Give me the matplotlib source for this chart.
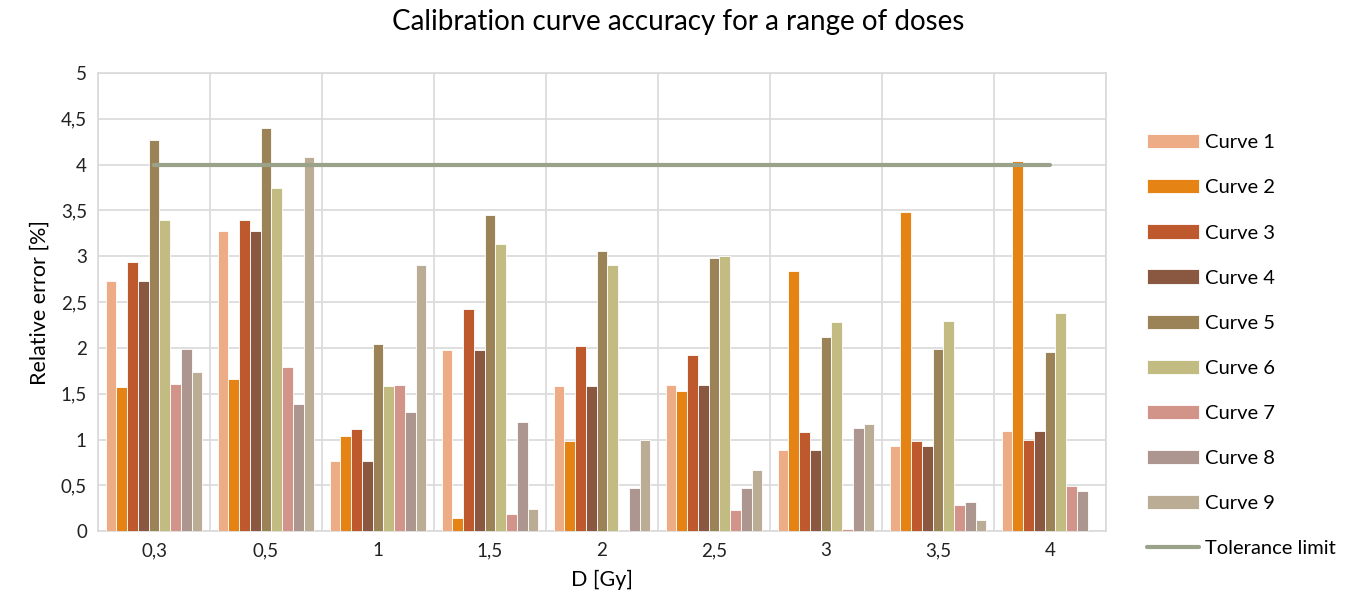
import numpy as np
import matplotlib.pyplot as plt

plt.rcParams['font.family'] = ['Lato', 'DejaVu Sans']

doses = ['0,3', '0,5', '1', '1,5', '2', '2,5', '3', '3,5', '4']
curve1 = [2.73, 3.28, 0.77, 1.98, 1.58, 1.59, 0.88, 0.93, 1.09]
curve2 = [1.57, 1.66, 1.04, 0.14, 0.98, 1.53, 2.84, 3.48, 4.04]
curve3 = [2.94, 3.40, 1.12, 2.43, 2.02, 1.92, 1.08, 0.98, 1.00]
curve4 = [2.73, 3.28, 0.77, 1.98, 1.58, 1.59, 0.88, 0.93, 1.09]
curve5 = [4.27, 4.40, 2.04, 3.45, 3.06, 2.98, 2.12, 1.99, 1.96]
curve6 = [3.40, 3.74, 1.58, 3.13, 2.91, 3.00, 2.28, 2.29, 2.38]
curve7 = [1.61, 1.79, 1.59, 0.19, 0.00, 0.23, 0.02, 0.28, 0.49]
curve8 = [1.99, 1.39, 1.30, 1.19, 0.47, 0.47, 1.13, 0.32, 0.44]
curve9 = [1.74, 4.08, 2.90, 0.24, 1.00, 0.67, 1.17, 0.12, 0.00]
tolerance = [4, 4, 4, 4, 4, 4, 4, 4, 4]

series = [curve1, curve2, curve3, curve4, curve5, curve6, curve7, curve8, curve9]
names = ['Curve %d' % (i + 1) for i in range(9)]
colors = ['#EDAC85', '#E58314', '#BE592D', '#8A5840', '#9C8357',
          '#C3BC82', '#D29489', '#AD9690', '#BAAC95']

fig = plt.figure(figsize=(13.56, 6.14), dpi=100)
ax = fig.add_axes([0.0723, 0.135, 0.7433, 0.746])

x = np.arange(len(doses))
w = 0.096
handles = []
for i, (vals, c) in enumerate(zip(series, colors)):
    b = ax.bar(x + (i - 4) * w, vals, w, color=c, edgecolor='white',
               linewidth=0.6, label=names[i], zorder=3)
    handles.append(b)

line, = ax.plot(x, tolerance, color='#9AA38A', lw=3, solid_capstyle='round',
                label='Tolerance limit', zorder=4)
handles.append(line)

ax.set_xlim(-0.5, len(doses) - 0.5)
ax.set_ylim(0, 5)
ax.set_yticks(np.arange(0, 5.01, 0.5))
ax.set_yticklabels(['0', '0,5', '1', '1,5', '2', '2,5', '3', '3,5', '4', '4,5', '5'])
ax.set_xticks(x)
ax.set_xticklabels(doses)
ax.set_xticks(np.arange(-0.5, len(doses), 1), minor=True)
ax.grid(True, which='minor', axis='x', color='#D9D9D9', lw=1.2, zorder=0)
ax.grid(True, which='major', axis='y', color='#D9D9D9', lw=1.2, zorder=0)
ax.tick_params(which='both', length=0, labelsize=13.5, colors='#222222', pad=8)
for s in ax.spines.values():
    s.set_color('#D9D9D9')
    s.set_linewidth(1.2)

ax.set_xlabel('D [Gy]', fontsize=15.5, labelpad=8)
ax.set_ylabel('Relative error [%]', fontsize=15.5, labelpad=8)
fig.suptitle('Calibration curve accuracy for a range of doses', fontsize=20, y=0.985)

ax.legend(handles=handles, labels=names + ['Tolerance limit'],
          loc='center left', bbox_to_anchor=(0.8325, 0.437), bbox_transform=fig.transFigure,
          frameon=False, fontsize=14.5, handlelength=2.6, handleheight=0.7,
          labelspacing=1.39, handletextpad=0.3)

fig.savefig('out.png', dpi=100)
